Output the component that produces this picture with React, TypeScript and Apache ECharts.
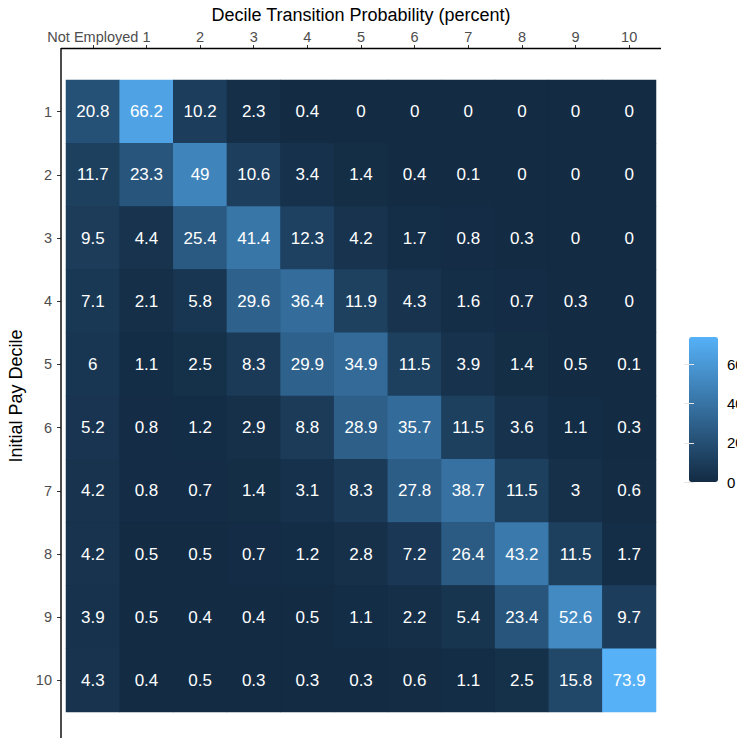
import { useEffect, useRef } from "react";
import * as echarts from "echarts";

const FONT = "'Liberation Sans', Arial, sans-serif";
const TICK_TEXT = "#4d4d4d";
const LOW = "#132B43";
const HIGH = "#56B1F7";

const X_LABELS = ["Not Employed", "1", "2", "3", "4", "5", "6", "7", "8", "9", "10"];
const Y_LABELS = ["1", "2", "3", "4", "5", "6", "7", "8", "9", "10"];

// one row per initial decile, columns follow X_LABELS
const ROW_1 = [20.8, 66.2, 10.2, 2.3, 0.4, 0, 0, 0, 0, 0, 0];
const ROW_2 = [11.7, 23.3, 49, 10.6, 3.4, 1.4, 0.4, 0.1, 0, 0, 0];
const ROW_3 = [9.5, 4.4, 25.4, 41.4, 12.3, 4.2, 1.7, 0.8, 0.3, 0, 0];
const ROW_4 = [7.1, 2.1, 5.8, 29.6, 36.4, 11.9, 4.3, 1.6, 0.7, 0.3, 0];
const ROW_5 = [6, 1.1, 2.5, 8.3, 29.9, 34.9, 11.5, 3.9, 1.4, 0.5, 0.1];
const ROW_6 = [5.2, 0.8, 1.2, 2.9, 8.8, 28.9, 35.7, 11.5, 3.6, 1.1, 0.3];
const ROW_7 = [4.2, 0.8, 0.7, 1.4, 3.1, 8.3, 27.8, 38.7, 11.5, 3, 0.6];
const ROW_8 = [4.2, 0.5, 0.5, 0.7, 1.2, 2.8, 7.2, 26.4, 43.2, 11.5, 1.7];
const ROW_9 = [3.9, 0.5, 0.4, 0.4, 0.5, 1.1, 2.2, 5.4, 23.4, 52.6, 9.7];
const ROW_10 = [4.3, 0.4, 0.5, 0.3, 0.3, 0.3, 0.6, 1.1, 2.5, 15.8, 73.9];
const ROWS = [ROW_1, ROW_2, ROW_3, ROW_4, ROW_5, ROW_6, ROW_7, ROW_8, ROW_9, ROW_10];

const LEGEND_TICKS = [0, 20, 40, 60];

export default function App() {
  const elRef = useRef<HTMLDivElement>(null);

  useEffect(() => {
    const el = elRef.current;
    if (!el) return;
    const chart = echarts.init(el, null, { renderer: "svg" });

    const cells: [number, number, number][] = [];
    ROWS.forEach((row, yi) => row.forEach((v, xi) => cells.push([xi, yi, v])));
    const maxV = Math.max(...cells.map((c) => c[2]));

    // shared look of the colour-bar tick marks (both sides of the bar)
    const barTick = { show: true, inside: true, length: 5, customValues: LEGEND_TICKS, lineStyle: { color: "#e6e6e6", width: 1 } };

    chart.setOption({
      animation: false,
      textStyle: { fontFamily: FONT },
      grid: [
        // dark backdrop hides the hairline seams between heatmap cells
        { left: 66, right: 81, top: 80, bottom: 26, show: true, backgroundColor: LOW, borderWidth: 0, outerBoundsMode: "none" },
        // colour-bar frame, only used for its tick marks / labels (labels run off the right edge, as in the source)
        { left: 689, width: 29, top: 337, height: 145, outerBoundsMode: "none" },
      ],
      xAxis: [
        {
          type: "category",
          gridIndex: 0,
          position: "top",
          offset: 31,
          data: X_LABELS,
          axisLine: { show: false },
          axisTick: { show: true, alignWithLabel: true, length: 4, lineStyle: { color: "#333", width: 1 } },
          axisLabel: { interval: 0, color: TICK_TEXT, fontSize: 14.5, margin: 5 },
          splitLine: { show: false },
          name: "Decile Transition Probability (percent)",
          nameLocation: "middle",
          nameGap: 22,
          nameTextStyle: { color: "#000", fontSize: 18 },
        },
        { type: "value", gridIndex: 1, show: false, min: 0, max: 1 },
      ],
      yAxis: [
        {
          type: "category",
          gridIndex: 0,
          inverse: true,
          offset: 5,
          data: Y_LABELS,
          axisLine: { show: false },
          axisTick: { show: true, alignWithLabel: true, length: 4, lineStyle: { color: "#333", width: 1 } },
          axisLabel: { color: TICK_TEXT, fontSize: 14.5, margin: 9 },
          splitLine: { show: false },
          name: "Initial Pay Decile",
          nameLocation: "middle",
          nameGap: 32,
          nameTextStyle: { color: "#000", fontSize: 18 },
        },
        {
          type: "value",
          gridIndex: 1,
          position: "right",
          min: 0,
          max: maxV,
          z: 10,
          axisLine: { show: false },
          splitLine: { show: false },
          axisTick: barTick,
          axisLabel: { color: "#000", fontSize: 15, margin: 9, customValues: LEGEND_TICKS },
        },
        {
          type: "value",
          gridIndex: 1,
          position: "left",
          min: 0,
          max: maxV,
          z: 10,
          axisLine: { show: false },
          splitLine: { show: false },
          axisTick: barTick,
          axisLabel: { show: false },
        },
      ],
      visualMap: {
        type: "continuous",
        min: 0,
        max: maxV,
        calculable: false,
        left: 689,
        top: 337,
        padding: 0,
        itemWidth: 29,
        itemHeight: 145,
        inRange: { color: [LOW, HIGH] },
        seriesIndex: 0,
      },
      graphic: [
        { type: "line", shape: { x1: 61, y1: 48.5, x2: 661, y2: 48.5 }, style: { stroke: "#000", lineWidth: 1.4 }, z: 20 },
        { type: "line", shape: { x1: 61, y1: 48, x2: 61, y2: 738 }, style: { stroke: "#000", lineWidth: 1.4 }, z: 20 },
      ],
      series: [
        {
          type: "heatmap",
          xAxisIndex: 0,
          yAxisIndex: 0,
          data: cells,
          label: {
            show: true,
            color: "#fff",
            fontSize: 17,
            fontFamily: FONT,
            formatter: (p: { value: number[] }) => String(p.value[2]),
          },
          emphasis: { disabled: true },
        },
      ],
    });

    return () => chart.dispose();
  }, []);

  return (
    <div
      ref={elRef}
      style={{ position: "fixed", left: 0, top: 0, width: 737, height: 738, background: "#fff" }}
    />
  );
}
